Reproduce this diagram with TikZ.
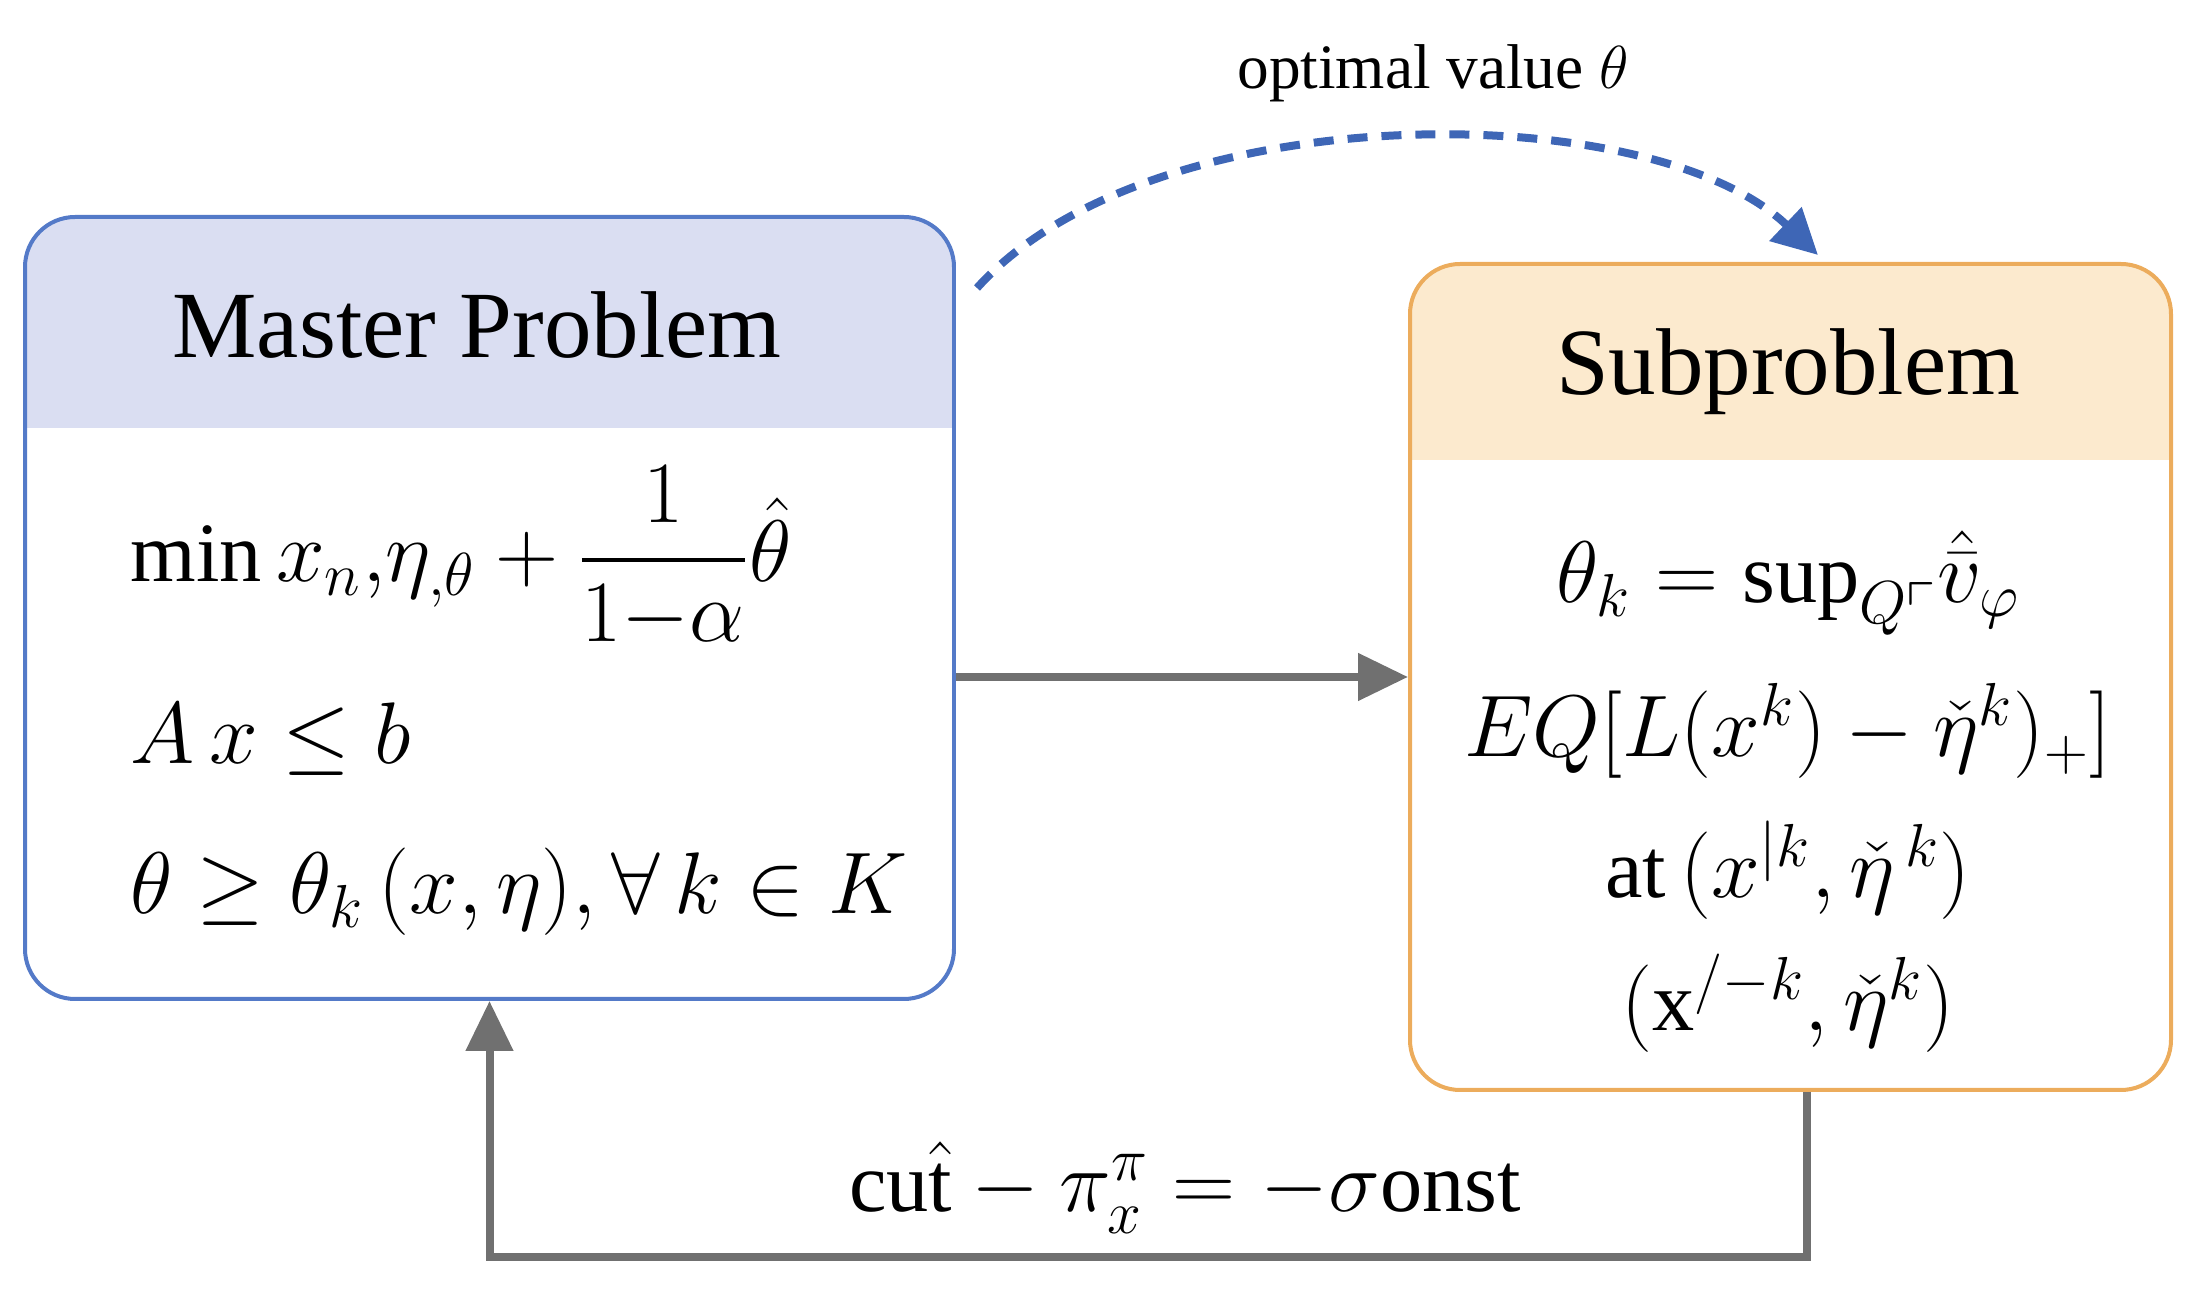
\documentclass[tikz,border=0pt]{standalone}
\usepackage{amssymb,amsmath}
\usepackage{fontspec}
\setmainfont{Liberation Serif}
\usetikzlibrary{arrows.meta,positioning}
\definecolor{mblue}{RGB}{84,122,200}
\definecolor{mhead}{RGB}{218,222,242}
\definecolor{sorange}{RGB}{236,172,92}
\definecolor{shead}{RGB}{252,234,206}
\definecolor{flowgray}{RGB}{112,112,112}
\definecolor{dashblue}{RGB}{62,102,182}

\begin{document}
\begin{tikzpicture}[x=0.1mm, y=0.1mm,
		box/.style={draw, line width=0.4mm, rounded corners=5mm, inner sep=0pt},
		line/.style={font=\fontsize{24}{28}\selectfont},
		flow/.style={draw=flowgray, line width=0.8mm, -{Triangle[length=5mm,width=4.6mm]}}]
		
		\useasboundingbox (0,0) rectangle (2199,-1290);
		
		\node[box, draw=mblue, minimum width=92.9mm, minimum height=78.2mm,
		path picture={\fill[mhead, sharp corners] (path picture bounding box.north west) rectangle ([yshift=-21.1mm]path picture bounding box.north east);}]
		(master) at (489.5,-608) {};
		\node[box, draw=sorange, minimum width=76.1mm, minimum height=82.6mm,
		path picture={\fill[shead, sharp corners] (path picture bounding box.north west) rectangle ([yshift=-19.6mm]path picture bounding box.north east);}]
		(sub) at (1790.5,-677) {};
		
		\node[font=\fontsize{27}{32}\selectfont] (mtitle) at (477,-325) {Master Problem};
		\node[font=\fontsize{27}{32}\selectfont] (stitle) at (1788,-372) {Subproblem};
		
		% master problem
		\node[line, anchor=base west] (m1) at (118,-582) {$\min x_{n},\!\eta_{,\theta}+\dfrac{1}{1{-}\alpha}\hat{\theta}$};
		\node[line, anchor=base west] (m2) at (118,-764) {$A\,x\leq b$};
		\node[line, anchor=base west] (m3) at (118,-914) {$\theta\geq\theta_{k}\,(x,\eta),\forall\,k\in K$};
		
		% subproblem
		\node[line, anchor=base] (s1) at (1788,-603) {$\theta_{k}=\mathrm{sup}_{Q\ulcorner}\hat{\bar v}_{\varphi}$};
		\node[line, anchor=base] (s2) at (1788,-757) {$EQ[L(x^{k})-\check\eta^{k})_{+}]$};
		\node[line, anchor=base] (s3) at (1788,-898) {at\,$(x^{|k},\check\eta^{\,k})$};
		\node[line, anchor=base] (s4) at (1788,-1031) {$(\mathrm{x}^{/-k},\check\eta^{k})$};
		
		\node[font=\fontsize{18}{20}\selectfont] (opt) at (1433,-73) {optimal value $\theta$};
		\node[line, anchor=base] (cut) at (1185,-1212) {$\mathrm{cu}\hat{\mathrm{t}}-\pi_{x}^{\pi}=-\sigma\mathrm{onst}$};
		
		\coordinate (dstart) at (977,-288);
		\coordinate (dend) at (1818,-255);
		\draw[dashblue, line width=0.8mm, dash pattern=on 2mm off 1.4mm, -{Triangle[length=4.5mm,width=4.5mm]}]
		(dstart) .. controls (1150,-95) and (1650,-95) .. (dend);
		
		\path[flow] (master.east |- sub.west) -- (sub.west);
		\path[flow] ([xshift=1.6mm]sub.south) -- ++(0,-16.5mm) -| (master.south);
		
	\end{tikzpicture}
\end{document}
